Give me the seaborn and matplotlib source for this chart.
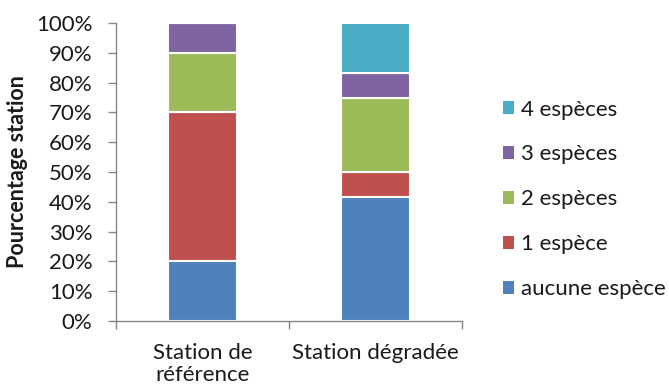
import matplotlib
matplotlib.use("Agg")
import matplotlib.pyplot as plt
import matplotlib.ticker as mticker
from matplotlib.patches import Patch
import seaborn as sns
import numpy as np

# Stations and share of stations by number of species found
stations = ["Station de\nréférence", "Station dégradée"]
series = ["aucune espèce", "1 espèce", "2 espèces", "3 espèces", "4 espèces"]
aucune_espece = [0.20, 5 / 12]
une_espece = [0.50, 1 / 12]
deux_especes = [0.20, 3 / 12]
trois_especes = [0.10, 1 / 12]
quatre_especes = [0.00, 2 / 12]
colors = ["#4F81BD", "#C0504D", "#9BBB59", "#8064A2", "#4BACC6"]

sns.set_theme(style="white")
plt.rcParams["font.family"] = ["Lato", "DejaVu Sans"]
FS = 16
TXT = "#1a1a1a"

fig = plt.figure(figsize=(6.69, 3.87), dpi=100)
ax = fig.add_axes([116 / 669, 66 / 387, 346 / 669, 298 / 387])

values = [aucune_espece, une_espece, deux_especes, trois_especes, quatre_especes]
x = np.arange(len(stations))
bottom = np.zeros(len(stations))
for name, vals, col in zip(series, values, colors):
    sns.barplot(x=x, y=vals, bottom=bottom, color=col, width=0.4, saturation=1,
                edgecolor="white", linewidth=1.5, ax=ax, native_scale=True)
    bottom = bottom + np.array(vals)

ax.set_xlim(-0.5, 1.5)
ax.set_ylim(0, 1)
ax.yaxis.set_major_locator(mticker.MultipleLocator(0.1))
ax.yaxis.set_major_formatter(mticker.PercentFormatter(1.0, decimals=0))

ax.set_xticks([-0.5, 0.5, 1.5])
ax.set_xticklabels([])
ax.set_xticks(x, minor=True)
ax.set_xticklabels(stations, minor=True, fontsize=FS, color=TXT, linespacing=1.1)
ax.tick_params(axis="x", which="major", direction="out", length=6, width=1,
               color="#868686", bottom=True)
ax.tick_params(axis="x", which="minor", length=0, pad=16)
ax.tick_params(axis="y", direction="out", length=6, width=1, color="#868686",
               left=True, pad=11, labelsize=FS, labelcolor=TXT)

for side in ["top", "right"]:
    ax.spines[side].set_visible(False)
for side in ["left", "bottom"]:
    ax.spines[side].set_color("#868686")
    ax.spines[side].set_linewidth(1)

ax.set_xlabel("")
ax.set_ylabel("Pourcentage station", fontsize=15.5, fontweight="bold",
              color=TXT, labelpad=6)

handles = [Patch(facecolor=c, edgecolor="none") for c in colors][::-1]
labels = series[::-1]
fig.legend(handles, labels, loc="center left", bbox_to_anchor=(0.722, 0.485),
           frameon=False, fontsize=FS, handlelength=0.5, handleheight=0.5,
           handletextpad=0.3, labelspacing=1.12, labelcolor=TXT)

fig.savefig("out.png", dpi=100)
